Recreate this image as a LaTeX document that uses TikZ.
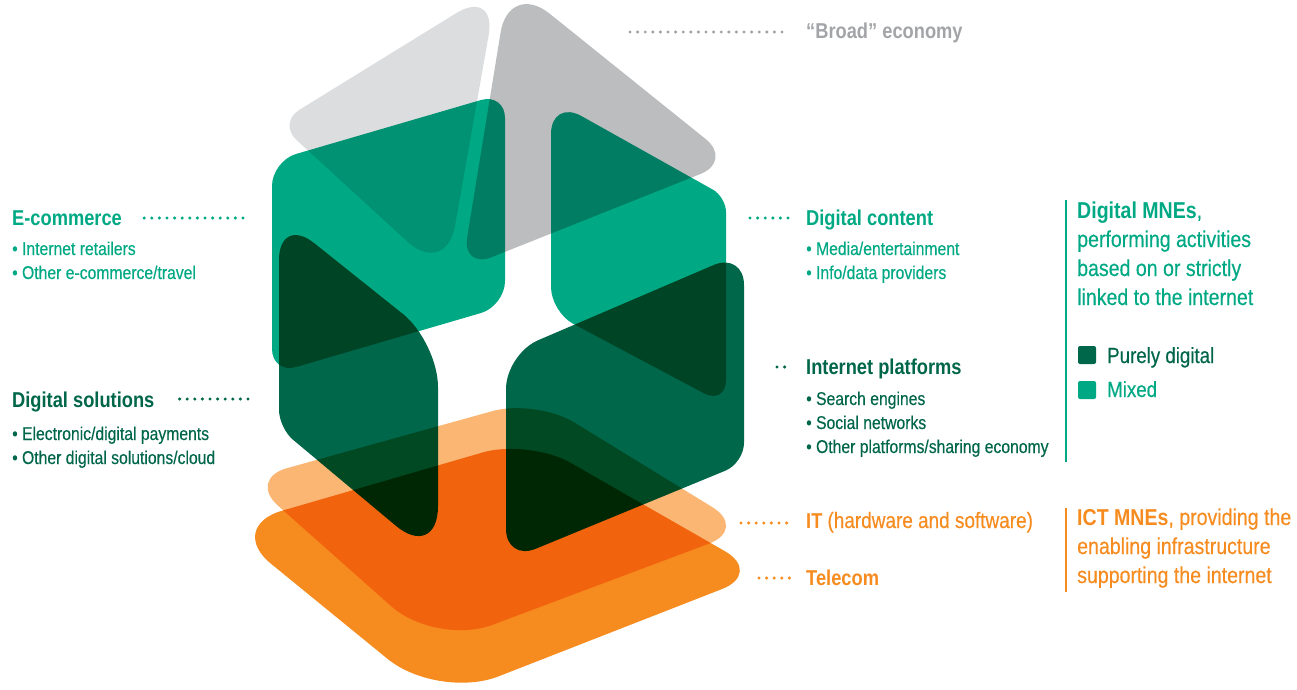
\documentclass[tikz,border=0pt]{standalone}
\usepackage{fontspec}
\setmainfont{Liberation Sans}[FakeStretch=0.85,UprightFeatures={FakeBold=0.35}]
\definecolor{grayL}{HTML}{DCDDDE}
\definecolor{grayD}{HTML}{BCBDBF}
\definecolor{grayT}{HTML}{A2A4A7}
\definecolor{mixed}{HTML}{00A984}
\definecolor{pure}{HTML}{00674B}
\definecolor{pureT}{HTML}{00664A}
\definecolor{peach}{HTML}{FBB674}
\definecolor{orange}{HTML}{F68B1F}
\begin{document}
\begin{tikzpicture}[x=1pt,y=-1pt,
    head/.style={anchor=base west,inner sep=0pt,font=\bfseries\fontsize{21.5}{24}\selectfont},
    item/.style={anchor=base west,inner sep=0pt,font=\fontsize{18.5}{22}\selectfont},
    big/.style={anchor=base west,inner sep=0pt,font=\fontsize{23}{29}\selectfont},
    leader/.style={line width=3.4pt,line cap=round,dash pattern=on 0pt off 7.6pt}]
    \useasboundingbox (0,0) rectangle (1297,689);

    % layers, each corner with its own rounding
    \begin{scope}[blend mode=multiply]
        \fill[orange] (226,527) [rounded corners=48pt] -- (529,439) [rounded corners=44pt] -- (763,573) [rounded corners=65pt] -- (438,700) [rounded corners=58pt] -- cycle;
        \fill[peach] (248,479) [rounded corners=45pt] -- (536,399) [rounded corners=42pt] -- (748,529) [rounded corners=60pt] -- (436,646) [rounded corners=40pt] -- cycle;
        \fill[grayL] (278,123) [rounded corners=48pt] -- (497,-12) [rounded corners=52pt] -- (446,277) [rounded corners=25pt] -- cycle;
        \fill[grayD] (509,-19) [rounded corners=35pt] -- (733,161) [rounded corners=32pt] -- (462,269) [rounded corners=52pt] -- cycle;
        \fill[mixed,rounded corners=25pt] (272,161) -- (505,93) -- (505,306) -- (272,374) -- cycle;
        \fill[mixed] (551,99) [rounded corners=15pt] -- (726,197) [rounded corners=25pt] -- (726,405) -- (551,312) [rounded corners=35pt] -- cycle;
        \fill[pure] (279,215) [rounded corners=45pt] -- (438,342) [rounded corners=55pt] -- (438,561) [rounded corners=18pt] -- (279,428) [rounded corners=45pt] -- cycle;
        \fill[pure] (506,354) [rounded corners=33pt] -- (744,252) [rounded corners=20pt] -- (744,463) [rounded corners=32pt] -- (506,561) [rounded corners=35pt] -- cycle;
    \end{scope}

    % left labels
    \node[head,text=mixed] (ecom) at (12,225) {E-commerce};
    \node[item,text=mixed] (ecom1) at (12,255) {• Internet retailers};
    \node[item,text=mixed] (ecom2) at (12,279) {• Other e-commerce/travel};
    \node[head,text=pureT] (dsol) at (12,407) {Digital solutions};
    \node[item,text=pureT] (dsol1) at (12,440) {• Electronic/digital payments};
    \node[item,text=pureT] (dsol2) at (12,464) {• Other digital solutions/cloud};

    % right labels
    \node[head,text=grayT] (broad) at (806,38) {“Broad” economy};
    \node[head,text=mixed] (dcon) at (806,225) {Digital content};
    \node[item,text=mixed] (dcon1) at (806,255) {• Media/entertainment};
    \node[item,text=mixed] (dcon2) at (806,279) {• Info/data providers};
    \node[head,text=pureT] (iplat) at (806,374) {Internet platforms};
    \node[item,text=pureT] (iplat1) at (806,405) {• Search engines};
    \node[item,text=pureT] (iplat2) at (806,429) {• Social networks};
    \node[item,text=pureT] (iplat3) at (806,453) {• Other platforms/sharing economy};
    \node[head,text=orange] (it) at (806,528) {IT \mdseries\fontsize{22.3}{24}\selectfont(hardware and software)};
    \node[head,text=orange] (tel) at (806,585) {Telecom};

    % leaders
    \coordinate (bdot) at (630,32);
    \coordinate (ecdot) at (243,218);
    \coordinate (dsdot) at (248,399);
    \coordinate (dcdot) at (750,218);
    \coordinate (ipdot) at (777,367);
    \coordinate (itdot) at (741,523);
    \coordinate (teldot) at (759,578);
    \draw[leader,grayT,shorten >=22pt] (bdot) -- (broad.west |- bdot);
    \draw[leader,mixed,shorten >=21pt] (ecdot) -- (ecom.east |- ecdot);
    \draw[leader,pureT,shorten >=19pt] (dsdot) -- (dsol.east |- dsdot);
    \draw[leader,mixed,shorten >=16pt] (dcdot) -- (dcon.west |- dcdot);
    \draw[leader,pureT,shorten >=19pt] (ipdot) -- (iplat.west |- ipdot);
    \draw[leader,orange,shorten >=16pt] (itdot) -- (it.west |- itdot);
    \draw[leader,orange,shorten >=16pt] (teldot) -- (tel.west |- teldot);

    % digital MNEs
    \draw[mixed,line width=2.5pt] (1066,200) -- (1066,462);
    \node[big,text=mixed] (mne1) at (1077,218) {\textbf{Digital MNEs},};
    \node[big,text=mixed] (mne2) at (1077,247) {performing activities};
    \node[big,text=mixed] (mne3) at (1077,276) {based on or strictly};
    \node[big,text=mixed] (mne4) at (1077,305) {linked to the internet};
    \node[fill=pure,rounded corners=2pt,minimum size=18pt,inner sep=0pt] (sqpure) at (1087,355) {};
    \node[fill=mixed,rounded corners=2pt,minimum size=18pt,inner sep=0pt] (sqmix) at (1087,390) {};
    \node[anchor=base west,inner sep=0pt,font=\fontsize{22}{26}\selectfont,text=pureT] (lpure) at (1107,363) {Purely digital};
    \node[anchor=base west,inner sep=0pt,font=\fontsize{22}{26}\selectfont,text=mixed] (lmix) at (1107,397) {Mixed};

    % ICT MNEs
    \draw[orange,line width=2.5pt] (1066,508) -- (1066,592);
    \node[big,text=orange] (ict1) at (1077,525) {\textbf{ICT MNEs}, providing the};
    \node[big,text=orange] (ict2) at (1077,554) {enabling infrastructure};
    \node[big,text=orange] (ict3) at (1077,583) {supporting the internet};
\end{tikzpicture}
\end{document}
